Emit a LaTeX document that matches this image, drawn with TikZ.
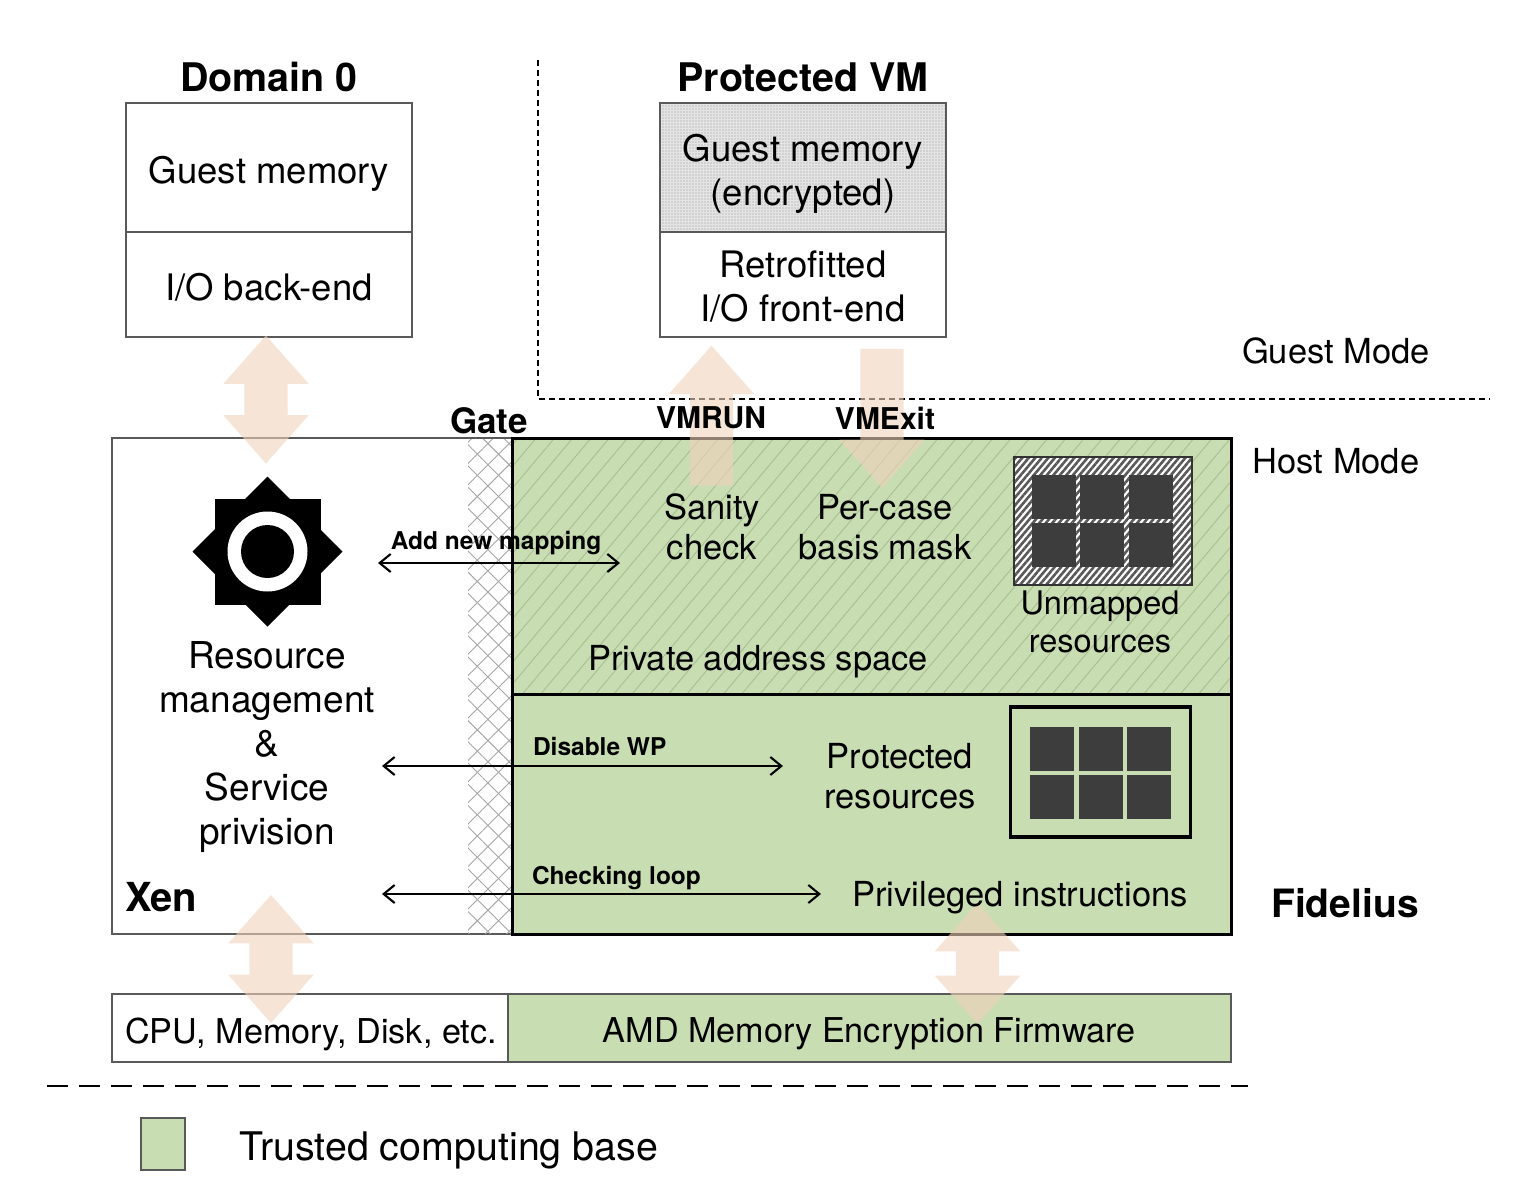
\documentclass[tikz,border=0pt]{standalone}
\usepackage{fontspec}
\setmainfont{TeX Gyre Heros}
\usetikzlibrary{arrows.meta,patterns.meta,shapes.arrows,shapes.geometric}
\definecolor{tcbgreen}{HTML}{C9DDB3}
\definecolor{hatchgreen}{HTML}{A8BF92}
\definecolor{flowtan}{HTML}{F0D2BB}
\definecolor{guestgray}{HTML}{E4E4E4}
\definecolor{slotgray}{HTML}{3D3D3D}
\begin{document}
\begin{tikzpicture}[x=1pt,y=-1pt,>={Straight Barb[length=11pt,width=18pt]},
  every node/.style={inner sep=0pt,outer sep=0pt,align=center,font=\fontsize{34.5}{40}\selectfont},
  box/.style={rectangle,draw=black!65,line width=1.2pt},
  tcb/.style={box,fill=tcbgreen},
  heavy/.style={rectangle,draw=black,line width=3pt},
  hatched/.style={preaction={fill=tcbgreen},pattern={Lines[angle=50,distance=14pt,line width=.9pt]},pattern color=hatchgreen},
  slot/.style={rectangle,fill=slotgray,minimum width=44,minimum height=44},
  flowboth/.style={double arrow,rotate=90,fill=flowtan,opacity=.6,inner ysep=21.5pt,minimum width=85,double arrow head extend=21,double arrow tip angle=83,double arrow head indent=0pt},
  flowone/.style={single arrow,fill=flowtan,opacity=.6,inner ysep=21.5pt,minimum width=85,single arrow head extend=21,single arrow tip angle=83,single arrow head indent=0pt},
  title/.style={font=\fontsize{39.4}{44}\bfseries\selectfont},
  big/.style={font=\fontsize{36.5}{44}\selectfont},
  call/.style={font=\fontsize{24.5}{28}\bfseries\selectfont},
  link/.style={<->,line width=2.1pt}]
\useasboundingbox (0,0) rectangle (1532,1186);
% upper boxes
\node[box,minimum width=286,minimum height=129] (guest0) at (269,167.5) {};
\node[box,minimum width=286,minimum height=105] (backend) at (269,284.5) {};
\node[box,minimum width=286,minimum height=129,preaction={fill=guestgray},pattern={Dots[distance=3pt,radius=.8pt]},pattern color=black!25] (guestvm) at (803,167.5) {};
\node[box,minimum width=286,minimum height=105] (frontend) at (803,284.5) {};
% mode border
\coordinate (modetop) at (538,60);
\coordinate (modecorner) at (538,399);
\coordinate (moderight) at (1490,399);
\draw[line width=2pt,dash pattern=on 6pt off 4pt] (modetop) -- (modecorner) -- (moderight);
% host part
\node[box,minimum width=400,minimum height=496] (xen) at (312,686) {};
\node[rectangle,minimum width=44,minimum height=494,preaction={fill=white},pattern={Lines[angle=45,distance=15pt,line width=.9pt]},pattern color=black!35,postaction={pattern={Lines[angle=-45,distance=15pt,line width=.9pt]},pattern color=black!35}] (gate) at (490,686) {};
\node[heavy,minimum width=719,minimum height=256,hatched] (private) at (871.5,566) {};
\node[heavy,fill=tcbgreen,minimum width=719,minimum height=240] (protected) at (871.5,814) {};
% unmapped resources
\node[rectangle,draw=black!80,line width=1.6pt,minimum width=178,minimum height=128,preaction={fill=white},pattern={Lines[angle=50,distance=5pt,line width=2.6pt]},pattern color=black!65] (unmapped) at (1103,521) {};
\node[slot] (u1) at (1053.5,497) {};
\node[slot] (u2) at (1102,497) {};
\node[slot] (u3) at (1150.5,497) {};
\node[slot] (u4) at (1053.5,545) {};
\node[slot] (u5) at (1102,545) {};
\node[slot] (u6) at (1150.5,545) {};
% protected resources
\node[heavy,line width=3.4pt,minimum width=180,minimum height=130] (resframe) at (1100.5,772) {};
\node[slot] (p1) at (1052,749) {};
\node[slot] (p2) at (1100.5,749) {};
\node[slot] (p3) at (1149,749) {};
\node[slot] (p4) at (1052,797) {};
\node[slot] (p5) at (1100.5,797) {};
\node[slot] (p6) at (1149,797) {};
% lower boxes
\node[box,minimum width=396,minimum height=68] (hardware) at (310,1028) {};
\node[tcb,minimum width=723,minimum height=68] (firmware) at (869.5,1028) {};
\node[tcb,minimum width=44,minimum height=52] (legend) at (163,1144) {};
\coordinate (ruleleft) at (47,1086);
\coordinate (ruleright) at (1248,1086);
\draw[line width=2.4pt,dash pattern=on 21pt off 11pt] (ruleleft) -- (ruleright);
% sun
\node[diamond,fill=black,minimum width=150,minimum height=150] (sunb) at (267.5,551.5) {};
\node[rectangle,fill=black,minimum width=106,minimum height=106] (sunc) at (267.5,551.5) {};
\node[circle,fill=white,minimum size=80] (sunr) at (267.5,551.5) {};
\node[circle,fill=black,minimum size=53] (suni) at (267.5,551.5) {};
% wide arrows
\node[flowboth,minimum height=128] (dom0flow) at (266,399.5) {};
\node[flowboth,minimum height=128] (hwflow) at (271,959) {};
\node[flowboth,minimum height=121] (fwflow) at (977.5,963.5) {};
\node[flowone,rotate=90,minimum height=140] (vmrunflow) at (711.5,428) {};
\node[flowone,rotate=-90,minimum height=139] (vmexitflow) at (882,406) {};
% thin arrows
\coordinate (addl) at (378,563);
\coordinate (addr) at (620,563);
\coordinate (wpl) at (382,766);
\coordinate (wpr) at (783,766);
\coordinate (loopl) at (382,894);
\coordinate (loopr) at (821,894);
\draw[link] (addl) -- (addr);
\draw[link] (wpl) -- (wpr);
\draw[link] (loopl) -- (loopr);
% labels
\node[title] (t1) at (269,77) {Domain 0};
\node[title] (t2) at (803,77) {Protected VM};
\node[big] (t3) at (269,174) {Guest memory};
\node[big] (t4) at (269,287) {I/O back-end};
\node[big] (t5) at (803,174) {Guest memory\\(encrypted)};
\node[big] (t6) at (803,287) {Retrofitted\\I/O front-end};
\node (t7) at (1336,351) {Guest Mode};
\node (t8) at (1336,461) {Host Mode};
\node[font=\fontsize{35}{40}\bfseries\selectfont] (t9) at (489,421) {Gate};
\node[font=\fontsize{30}{34}\bfseries\selectfont] (t10) at (711,418) {VMRUN};
\node[font=\fontsize{30}{34}\bfseries\selectfont] (t11) at (885,418) {VMExit};
\node (t12) at (712,527) {Sanity\\check};
\node (t13) at (885,527) {Per-case\\basis mask};
\node[font=\fontsize{32.5}{38}\selectfont] (t14) at (1100,622) {Unmapped\\resources};
\node (t15) at (758,662) {Private address space};
\node[call] (t16) at (496,543) {Add new mapping};
\node[font=\fontsize{37}{44}\selectfont] (t17) at (267,747) {Resource\\management\\\&\\Service\\privision};
\node[call,anchor=west] (t18) at (533,746) {Disable WP};
\node (t19) at (900,776) {Protected\\resources};
\node[call,anchor=west] (t20) at (532,878) {Checking loop};
\node (t21) at (1020,898) {Privileged instructions};
\node[font=\fontsize{40}{44}\bfseries\selectfont,anchor=west] (t22) at (125,897) {Xen};
\node[font=\fontsize{39}{44}\bfseries\selectfont] (t23) at (1345,903) {Fidelius};
\node[font=\fontsize{34.2}{38}\selectfont] (t24) at (311,1034) {CPU, Memory, Disk, etc.};
\node[font=\fontsize{34.2}{38}\selectfont] (t25) at (869,1034) {AMD Memory Encryption Firmware};
\node[font=\fontsize{39.4}{44}\selectfont] (t26) at (449,1150) {Trusted computing base};
\end{tikzpicture}
\end{document}
